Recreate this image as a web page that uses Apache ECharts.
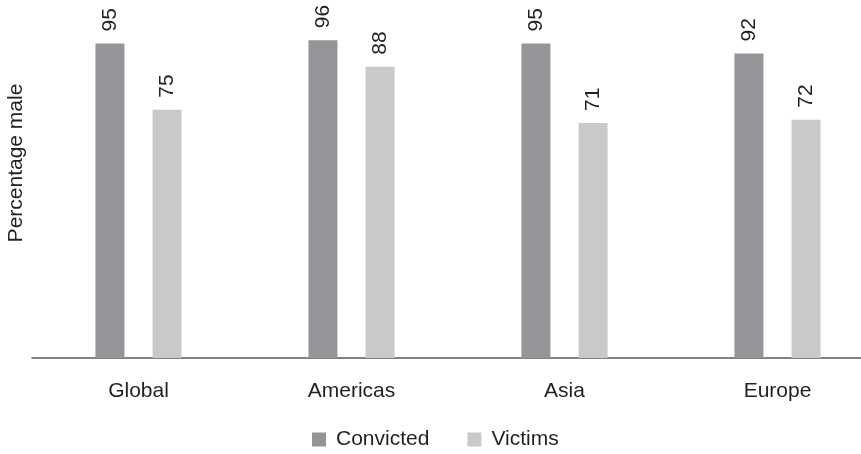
<!DOCTYPE html>
<html><head><meta charset="utf-8">
<script src="https://cdn.jsdelivr.net/npm/echarts@6/dist/echarts.min.js"></script>
<style>html,body{margin:0;padding:0;background:#fff}#c{width:861px;height:454px}</style>
</head><body><div id="c"></div>
<script>
const categories = ['Global', 'Americas', 'Asia', 'Europe'];
const convicted = [95, 96, 95, 92];
const victims = [75, 88, 71, 72];
const seriesNames = ['Convicted', 'Victims'];
const yAxisName = 'Percentage male';

const font = '"Liberation Sans", Arial, Helvetica, sans-serif';
const chart = echarts.init(document.getElementById('c'), null, {renderer: 'canvas'});
const lbl = {show: true, position: 'top', rotate: 90, align: 'left', verticalAlign: 'middle', distance: 12, fontSize: 21, color: '#231f20', fontFamily: font};
chart.setOption({
  animation: false,
  textStyle: {fontFamily: font},
  grid: {left: 32, top: 27, height: 331, width: 852, outerBoundsMode: 'none'},
  legend: {
    data: seriesNames, top: 424, left: 307, itemWidth: 14, itemHeight: 14, itemGap: 38,
    icon: 'rect', textStyle: {fontSize: 21, color: '#231f20', fontFamily: font, padding: [0, 0, 0, 5]}
  },
  xAxis: {
    type: 'category', data: categories,
    axisLine: {lineStyle: {color: '#58595b', width: 1.5}},
    axisTick: {show: false},
    axisLabel: {fontSize: 21, color: '#231f20', margin: 23, fontFamily: font}
  },
  yAxis: {
    type: 'value', min: 0, max: 100,
    name: yAxisName, nameLocation: 'middle', nameGap: 5,
    nameTextStyle: {fontSize: 21, color: '#231f20', fontFamily: font, padding: [0, 0, 0, 59]},
    axisLine: {show: false}, axisTick: {show: false}, axisLabel: {show: false}, splitLine: {show: false}
  },
  series: [
    {name: seriesNames[0], type: 'bar', data: convicted, barWidth: 29, barGap: '97%', itemStyle: {color: '#939598'}, label: lbl},
    {name: seriesNames[1], type: 'bar', data: victims, barWidth: 29, itemStyle: {color: '#c8c9cb'}, label: lbl}
  ]
});
</script></body></html>
